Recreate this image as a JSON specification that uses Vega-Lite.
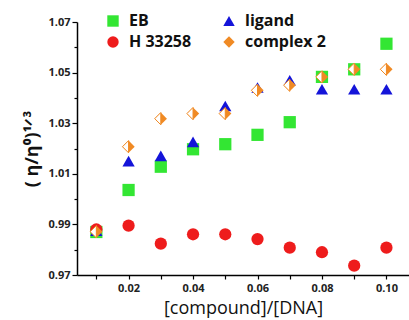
{
  "$schema": "https://vega.github.io/schema/vega-lite/v6.json",
  "width": 332,
  "height": 253,
  "autosize": "none",
  "padding": {"left": 77, "top": 22, "right": 0, "bottom": 45},
  "background": "white",
  "config": {
    "view": {"stroke": null},
    "font": "Open Sans",
    "axis": {"grid": false, "domainColor": "#000", "domainWidth": 1.5, "tickColor": "#000", "tickWidth": 1.2, "labelFont": "Open Sans", "labelFontWeight": "bold", "labelColor": "#222", "titleColor": "#111"}
  },
  "data": {
    "values": [
      {"x": 0.01, "series": "EB", "y": 0.987},
      {"x": 0.02, "series": "EB", "y": 1.0036},
      {"x": 0.03, "series": "EB", "y": 1.0128},
      {"x": 0.04, "series": "EB", "y": 1.0197},
      {"x": 0.05, "series": "EB", "y": 1.0217},
      {"x": 0.06, "series": "EB", "y": 1.0254},
      {"x": 0.07, "series": "EB", "y": 1.0304},
      {"x": 0.08, "series": "EB", "y": 1.0483},
      {"x": 0.09, "series": "EB", "y": 1.0513},
      {"x": 0.10, "series": "EB", "y": 1.0614},
      {"x": 0.01, "series": "H 33258", "y": 0.988},
      {"x": 0.02, "series": "H 33258", "y": 0.9895},
      {"x": 0.03, "series": "H 33258", "y": 0.9824},
      {"x": 0.04, "series": "H 33258", "y": 0.9861},
      {"x": 0.05, "series": "H 33258", "y": 0.9861},
      {"x": 0.06, "series": "H 33258", "y": 0.9842},
      {"x": 0.07, "series": "H 33258", "y": 0.9808},
      {"x": 0.08, "series": "H 33258", "y": 0.979},
      {"x": 0.09, "series": "H 33258", "y": 0.9737},
      {"x": 0.10, "series": "H 33258", "y": 0.9808},
      {"x": 0.01, "series": "ligand", "y": 0.9875},
      {"x": 0.02, "series": "ligand", "y": 1.015},
      {"x": 0.03, "series": "ligand", "y": 1.0171},
      {"x": 0.04, "series": "ligand", "y": 1.0226},
      {"x": 0.05, "series": "ligand", "y": 1.0368},
      {"x": 0.06, "series": "ligand", "y": 1.0441},
      {"x": 0.07, "series": "ligand", "y": 1.047},
      {"x": 0.08, "series": "ligand", "y": 1.0434},
      {"x": 0.09, "series": "ligand", "y": 1.0434},
      {"x": 0.10, "series": "ligand", "y": 1.0434},
      {"x": 0.01, "series": "complex 2", "y": 0.9871},
      {"x": 0.02, "series": "complex 2", "y": 1.0207},
      {"x": 0.03, "series": "complex 2", "y": 1.0318},
      {"x": 0.04, "series": "complex 2", "y": 1.0338},
      {"x": 0.05, "series": "complex 2", "y": 1.0338},
      {"x": 0.06, "series": "complex 2", "y": 1.043},
      {"x": 0.07, "series": "complex 2", "y": 1.045},
      {"x": 0.08, "series": "complex 2", "y": 1.0483},
      {"x": 0.09, "series": "complex 2", "y": 1.0513},
      {"x": 0.10, "series": "complex 2", "y": 1.0513}
    ]
  },
  "encoding": {
    "x": {
      "field": "x", "type": "quantitative",
      "scale": {"domain": [0.004, 0.107], "nice": false, "zero": false},
      "axis": {
        "title": "[compound]/[DNA]",
        "titleFontSize": 18, "titleFontWeight": "normal", "titlePadding": 6,
        "values": [0.01, 0.02, 0.03, 0.04, 0.05, 0.06, 0.07, 0.08, 0.09, 0.1],
        "format": ".2f",
        "labelExpr": "round(datum.value*100) % 2 == 0 ? datum.label : ''",
        "labelFontSize": 11, "labelPadding": 3,
        "tickSize": 4
      }
    },
    "y": {
      "field": "y", "type": "quantitative",
      "scale": {"domain": [0.97, 1.07], "nice": false, "zero": false},
      "axis": {
        "title": "( η/η⁰)¹ᐟ³",
        "titleFontSize": 18, "titleFontWeight": "bold", "titlePadding": 6,
        "values": [0.97, 0.98, 0.99, 1.0, 1.01, 1.02, 1.03, 1.04, 1.05, 1.06, 1.07],
        "format": ".2f",
        "labelExpr": "round((datum.value-0.97)*100) % 2 == 0 ? datum.label : ''",
        "labelFontSize": 11, "labelPadding": 2,
        "tickSize": {"condition": {"test": "round((datum.value-0.97)*100) % 2 == 0", "value": 5}, "value": 3}
      }
    }
  },
  "layer": [
    {
      "mark": {"type": "point", "filled": true, "size": 150, "opacity": 1},
      "encoding": {
        "color": {
          "field": "series", "type": "nominal",
          "scale": {"domain": ["EB", "H 33258", "ligand", "complex 2"], "range": ["#33e633", "#ee1c1c", "#1414d9", "#f08a24"]},
          "legend": {
            "title": null, "orient": "none", "legendX": 28, "legendY": -9,
            "columns": 2, "columnPadding": 29, "rowPadding": 5,
            "labelFontSize": 16, "labelFontWeight": "bold", "labelColor": "#111",
            "symbolSize": 130, "labelOffset": 8
          }
        },
        "shape": {
          "field": "series", "type": "nominal",
          "scale": {"domain": ["EB", "H 33258", "ligand", "complex 2"], "range": ["square", "circle", "triangle-up", "diamond"]}
        }
      }
    },
    {
      "transform": [{"filter": "datum.series == 'complex 2'"}],
      "mark": {"type": "point", "filled": true, "size": 150, "opacity": 1, "shape": "M0,-1L-1,0L0,1Z", "fill": "white", "stroke": "#f08a24", "strokeWidth": 1}
    }
  ]
}
